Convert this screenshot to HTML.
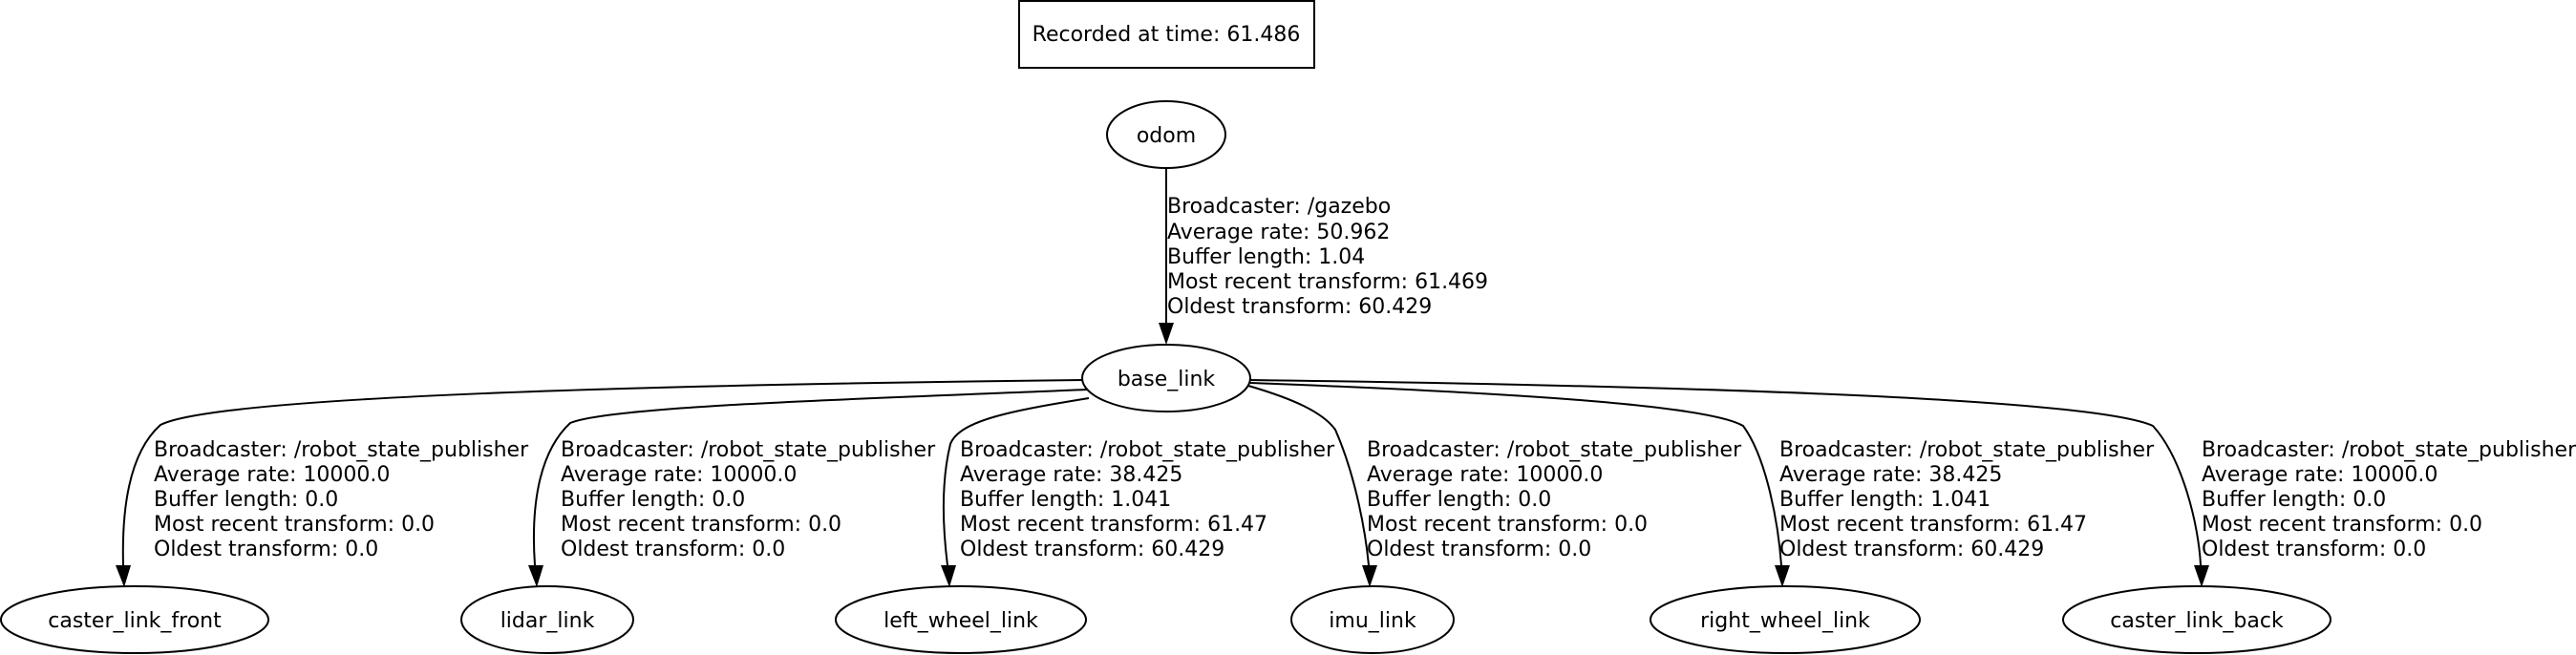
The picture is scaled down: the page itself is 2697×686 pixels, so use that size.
<!DOCTYPE html>
<html>
<head>
<meta charset="utf-8">
<style>
  html,body{margin:0;padding:0;background:#fff;}
  svg{display:block;}
  text{font-family:"DejaVu Sans","Liberation Sans",sans-serif;fill:#000;}
  .node{font-size:22px;}
  .lbl{font-size:22px;}
  .e{fill:none;stroke:#000;stroke-width:2;}
  .n{fill:none;stroke:#000;stroke-width:2;}
</style>
</head>
<body>
<svg width="2697" height="686" viewBox="0 0 2697 686" xmlns="http://www.w3.org/2000/svg">
  <rect width="2697" height="686" fill="#fff"/>

  <g>
    <rect x="1067" y="1" width="309" height="70" class="n"/>
    <text x="1221" y="43" text-anchor="middle" class="node">Recorded at time: 61.486</text>
  </g>

  <g>
    <ellipse cx="1221" cy="141" rx="62" ry="35" class="n"/>
    <text x="1221" y="149" text-anchor="middle" class="node">odom</text>
  </g>

  <g>
    <path d="M1221,176 L1221,338" class="e"/>
    <polygon points="1213,338 1229,338 1221,361" fill="#000"/>
    <text class="lbl">
      <tspan x="1222" y="223">Broadcaster: /gazebo</tspan>
      <tspan x="1222" y="250">Average rate: 50.962</tspan>
      <tspan x="1222" y="276">Buffer length: 1.04</tspan>
      <tspan x="1222" y="302">Most recent transform: 61.469</tspan>
      <tspan x="1222" y="328">Oldest transform: 60.429</tspan>
    </text>
  </g>

  <g>
    <ellipse cx="1221" cy="396" rx="88" ry="35" class="n"/>
    <text x="1221" y="404" text-anchor="middle" class="node">base_link</text>
  </g>

  <g>
    <path d="M1134,398 C600,404 220,418 168,445 C140,470 127,520 129,592" class="e"/>
    <polygon points="121,592 137,592 130,615" fill="#000"/>
    <text class="lbl">
      <tspan x="161" y="478">Broadcaster: /robot_state_publisher</tspan>
      <tspan x="161" y="504">Average rate: 10000.0</tspan>
      <tspan x="161" y="530">Buffer length: 0.0</tspan>
      <tspan x="161" y="556">Most recent transform: 0.0</tspan>
      <tspan x="161" y="582">Oldest transform: 0.0</tspan>
    </text>
  </g>

  <g>
    <path d="M1138,408 C900,418 640,425 597,443 C568,470 555,520 560,592" class="e"/>
    <polygon points="553,592 569,592 562,615" fill="#000"/>
    <text class="lbl">
      <tspan x="587" y="478">Broadcaster: /robot_state_publisher</tspan>
      <tspan x="587" y="504">Average rate: 10000.0</tspan>
      <tspan x="587" y="530">Buffer length: 0.0</tspan>
      <tspan x="587" y="556">Most recent transform: 0.0</tspan>
      <tspan x="587" y="582">Oldest transform: 0.0</tspan>
    </text>
  </g>

  <g>
    <path d="M1140,417 C1060,430 1005,440 995,465 C984,510 988,560 992,592" class="e"/>
    <polygon points="985,592 1001,592 994,615" fill="#000"/>
    <text class="lbl">
      <tspan x="1005" y="478">Broadcaster: /robot_state_publisher</tspan>
      <tspan x="1005" y="504">Average rate: 38.425</tspan>
      <tspan x="1005" y="530">Buffer length: 1.041</tspan>
      <tspan x="1005" y="556">Most recent transform: 61.47</tspan>
      <tspan x="1005" y="582">Oldest transform: 60.429</tspan>
    </text>
  </g>

  <g>
    <path d="M1307,404 C1355,418 1385,432 1398,450 C1420,500 1430,560 1433,592" class="e"/>
    <polygon points="1426,592 1442,592 1434,615" fill="#000"/>
    <text class="lbl">
      <tspan x="1431" y="478">Broadcaster: /robot_state_publisher</tspan>
      <tspan x="1431" y="504">Average rate: 10000.0</tspan>
      <tspan x="1431" y="530">Buffer length: 0.0</tspan>
      <tspan x="1431" y="556">Most recent transform: 0.0</tspan>
      <tspan x="1431" y="582">Oldest transform: 0.0</tspan>
    </text>
  </g>

  <g>
    <path d="M1309,401 C1600,412 1790,425 1825,446 C1850,480 1862,550 1865,592" class="e"/>
    <polygon points="1858,592 1874,592 1866,615" fill="#000"/>
    <text class="lbl">
      <tspan x="1863" y="478">Broadcaster: /robot_state_publisher</tspan>
      <tspan x="1863" y="504">Average rate: 38.425</tspan>
      <tspan x="1863" y="530">Buffer length: 1.041</tspan>
      <tspan x="1863" y="556">Most recent transform: 61.47</tspan>
      <tspan x="1863" y="582">Oldest transform: 60.429</tspan>
    </text>
  </g>

  <g>
    <path d="M1309,398 C1900,406 2200,422 2254,446 C2285,480 2302,550 2304,592" class="e"/>
    <polygon points="2297,592 2313,592 2305,615" fill="#000"/>
    <text class="lbl">
      <tspan x="2305" y="478">Broadcaster: /robot_state_publisher</tspan>
      <tspan x="2305" y="504">Average rate: 10000.0</tspan>
      <tspan x="2305" y="530">Buffer length: 0.0</tspan>
      <tspan x="2305" y="556">Most recent transform: 0.0</tspan>
      <tspan x="2305" y="582">Oldest transform: 0.0</tspan>
    </text>
  </g>

  <g>
    <ellipse cx="141" cy="649" rx="140" ry="35" class="n"/>
    <text x="141" y="657" text-anchor="middle" class="node">caster_link_front</text>
  </g>
  <g>
    <ellipse cx="573" cy="649" rx="90" ry="35" class="n"/>
    <text x="573" y="657" text-anchor="middle" class="node">lidar_link</text>
  </g>
  <g>
    <ellipse cx="1006" cy="649" rx="131" ry="35" class="n"/>
    <text x="1006" y="657" text-anchor="middle" class="node">left_wheel_link</text>
  </g>
  <g>
    <ellipse cx="1437" cy="649" rx="85" ry="35" class="n"/>
    <text x="1437" y="657" text-anchor="middle" class="node">imu_link</text>
  </g>
  <g>
    <ellipse cx="1869" cy="649" rx="141" ry="35" class="n"/>
    <text x="1869" y="657" text-anchor="middle" class="node">right_wheel_link</text>
  </g>
  <g>
    <ellipse cx="2300" cy="649" rx="140" ry="35" class="n"/>
    <text x="2300" y="657" text-anchor="middle" class="node">caster_link_back</text>
  </g>
</svg>
</body>
</html>
